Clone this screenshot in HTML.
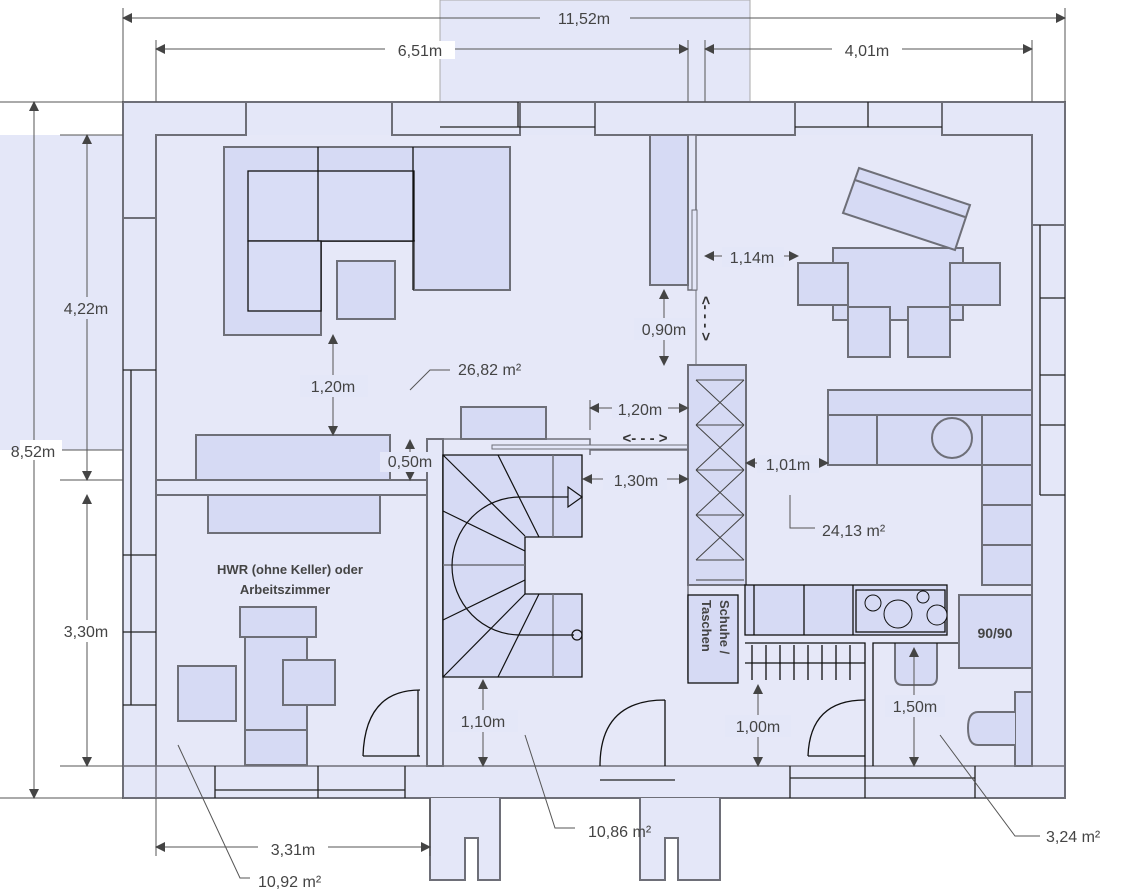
<!DOCTYPE html>
<html><head><style>
html,body{margin:0;padding:0;background:#fff}
svg{display:block}
text{font-family:"Liberation Sans",sans-serif;font-size:16px;fill:#444}
</style></head><body>
<svg width="1133" height="896" viewBox="0 0 1133 896" xmlns="http://www.w3.org/2000/svg">
<defs>
<marker id="a" markerWidth="10" markerHeight="10" refX="9" refY="5" orient="auto-start-reverse" markerUnits="userSpaceOnUse"><path d="M0,0 L10,5 L0,10 z" fill="#444"/></marker>
</defs>
<g stroke="#6e6f78" stroke-width="2" fill="#e4e7f8">
<rect x="440" y="0" width="310" height="102" stroke="#aaa" stroke-width="1"/>
<rect x="0" y="135" width="123" height="315" stroke="none"/>
<rect x="123" y="102" width="942" height="696"/>
<path d="M430 798 V880 H465 V838 H478 V880 H500 V798"/>
<path d="M640 798 V880 H665 V838 H678 V880 H720 V798"/>
</g>
<g stroke="#6e6f78" stroke-width="2" fill="#e5e7f8">
<rect x="156" y="135" width="876" height="631" stroke="none" fill="#e6e8f8"/>
<path d="M156 218 V135 H246 V102 M392 102 V135 H520 V102 M595 102 V135 H795 V102 M942 102 V135 H1032 V225 H1065 M1032 225 V766 M123 218 H156 V766" fill="none"/>
<path d="M123 766 H1065 M156 766 V798" fill="none" stroke-width="1.5"/>
<path d="M440 127 H595 M518 102 V127 M795 127 H942 M868 102 V127 M1040 225 V495 M1040 298 H1065 M1040 375 H1065 M1040 425 H1065 M1040 495 H1065 M123 370 H156 M123 555 H156 M123 632 H156 M123 705 H156 M131 370 V705" fill="none" stroke="#222" stroke-width="1.3"/>
<path d="M215 766 V798 M215 790 H405 M318 766 V798 M405 766 V798 M790 766 V798 M790 778 H975 M865 766 V798 M975 766 V798 M600 780 H675" fill="none" stroke="#222" stroke-width="1.3"/>
</g>
<g stroke="#6e6f78" stroke-width="2" fill="#e4e7f8">
<rect x="156" y="480" width="272" height="15"/>
<rect x="427" y="439" width="16" height="327"/>
<path d="M427 439 H590 V455 M590 450 H688" fill="none" stroke-width="1.5"/>
<rect x="492" y="445" width="196" height="4" stroke-width="1"/>
<rect x="688" y="135" width="8" height="155" stroke-width="1.5"/>
<rect x="692" y="210" width="5" height="80" stroke-width="1"/>
<rect x="688" y="365" width="58" height="220" fill="#d6daf4"/>
<path d="M688 365 V680" stroke-width="1.5"/>
<path d="M696 365 V290" stroke-width="1" fill="none"/>
</g>
<g stroke="#444" stroke-width="1" fill="none">
<path d="M696 380 H744 M696 425 H744 M696 470 H744 M696 515 H744 M696 560 H744 M696 580 H744"/>
<path d="M696 380 L744 425 M744 380 L696 425 M696 425 L744 470 M744 425 L696 470 M696 470 L744 515 M744 470 L696 515 M696 515 L744 560 M744 515 L696 560"/>
</g>
<g stroke="#6e6f78" stroke-width="2" fill="#d6daf4">
<path d="M224 147 H510 V290 H414 V241 H321 V335 H224 Z"/>
<rect x="248" y="171" width="166" height="70" fill="#d9ddf6" stroke="#111" stroke-width="1.3"/>
<rect x="248" y="241" width="73" height="70" fill="#d9ddf6" stroke="#111" stroke-width="1.3"/>
<path d="M318 147 V241 M413 147 V290" stroke="#111" stroke-width="1.3" fill="none"/>
<rect x="337" y="261" width="58" height="58"/>
<rect x="650" y="135" width="38" height="150"/>
<rect x="196" y="435" width="194" height="45"/>
<rect x="461" y="407" width="85" height="32"/>
<rect x="208" y="495" width="172" height="38"/>
<rect x="240" y="607" width="76" height="30"/>
<rect x="245" y="637" width="62" height="128"/>
<rect x="178" y="666" width="58" height="55"/>
<rect x="283" y="660" width="52" height="45"/>
<path d="M245 730 H307" fill="none"/>
<rect x="833" y="248" width="130" height="72"/>
<rect x="798" y="263" width="50" height="42"/>
<rect x="950" y="263" width="50" height="42"/>
<rect x="848" y="307" width="42" height="50"/>
<rect x="908" y="307" width="42" height="50"/>
<path d="M859 168 L970 205 L955 250 L843 213 Z"/>
<path d="M855 180 L965 217" fill="none"/>
<rect x="828" y="390" width="204" height="25"/>
<rect x="828" y="415" width="204" height="50"/>
<path d="M877 415 V465 M982 415 V465" fill="none"/>
<circle cx="952" cy="438" r="20"/>
<rect x="982" y="465" width="50" height="120"/>
<path d="M982 505 H1032 M982 545 H1032" fill="none"/>
<rect x="745" y="585" width="202" height="50" stroke="#111" stroke-width="1.3"/>
<path d="M754 585 V635 M804 585 V635 M853 585 V635" stroke="#111" stroke-width="1.3" fill="none"/>
<rect x="856" y="590" width="89" height="42" stroke="#111" stroke-width="1.3"/>
<circle cx="873" cy="603" r="8" stroke="#111" stroke-width="1"/>
<circle cx="898" cy="614" r="14" stroke="#111" stroke-width="1"/>
<circle cx="923" cy="597" r="6" stroke="#111" stroke-width="1"/>
<circle cx="937" cy="615" r="10" stroke="#111" stroke-width="1"/>
<rect x="959" y="595" width="73" height="73"/>
<rect x="688" y="595" width="50" height="88" stroke="#111" stroke-width="1.3"/>
<path d="M895 643 V677 Q895 685 903 685 H930 Q937 685 937 677 V643" />
<rect x="1015" y="692" width="17" height="74"/>
<path d="M1015 712 H978 Q968 712 968 728 Q968 745 978 745 H1015"/>
</g>
<g stroke="#111" stroke-width="1.3" fill="none">
<path d="M745 643 H865 V766 M873 766 V643 H958 M745 663 H865"/>
<path d="M752 645 V680 M766 645 V680 M780 645 V680 M794 645 V680 M808 645 V680 M822 645 V680 M836 645 V680 M850 645 V680"/>
<path d="M808 756 Q810 700 865 700 M808 756 H865" />
<path d="M363 756 Q365 690 420 690 M363 756 H420 M418 690 V756"/>
<path d="M600 766 Q600 700 665 700 M665 700 V766"/>
</g>
<path d="M443 455 H582 V537 H525 V594 H582 V677 H443 Z" fill="#d6daf4" stroke="#111" stroke-width="1.3"/>
<g stroke="#111" stroke-width="1.2" fill="none">
<path d="M553 455 V537 M553 594 V677 M443 565 H525" stroke="#6e6f78" stroke-width="1.5"/>
<path d="M443 455 L525 536 M498 455 L539 537 M443 511 L525 551 M443 620 L525 580 M443 677 L525 594 M498 677 L539 594"/>
<path d="M520 497 A67 68 0 0 0 520 635"/>
<path d="M520 497 H568 M520 635 H574"/>
<path d="M568 487 L582 497 L568 507 Z"/>
<circle cx="577" cy="635" r="5"/>
</g>
<g stroke="#555" stroke-width="1" fill="none">
<path d="M123 8 V102 M1065 8 V102 M156 40 V102 M688 40 V102 M705 40 V102 M1032 40 V102"/>
<path d="M123 18 H1065" marker-start="url(#a)" marker-end="url(#a)"/>
<path d="M156 49 H688" marker-start="url(#a)" marker-end="url(#a)"/>
<path d="M705 49 H1032" marker-start="url(#a)" marker-end="url(#a)"/>
<path d="M0 102 H123 M0 798 H123 M60 135 H123 M60 450 H123 M60 480 H123 M60 766 H123"/>
<path d="M34 102 V798" marker-start="url(#a)" marker-end="url(#a)"/>
<path d="M87 135 V480" marker-start="url(#a)" marker-end="url(#a)"/>
<path d="M87 495 V766" marker-start="url(#a)" marker-end="url(#a)"/>
<path d="M156 798 V856 M430 798 V856"/>
<path d="M156 847 H430" marker-start="url(#a)" marker-end="url(#a)"/>
<path d="M333 335 V435" marker-start="url(#a)" marker-end="url(#a)"/>
<path d="M410 440 V480" marker-start="url(#a)" marker-end="url(#a)"/>
<path d="M483 680 V766" marker-start="url(#a)" marker-end="url(#a)"/>
<path d="M664 290 V365" marker-start="url(#a)" marker-end="url(#a)"/>
<path d="M705 256 H798" marker-start="url(#a)" marker-end="url(#a)"/>
<path d="M590 400 V430 M590 408 H688" marker-end="url(#a)"/>
<path d="M590 408 H688" marker-start="url(#a)"/>
<path d="M583 479 H688" marker-start="url(#a)" marker-end="url(#a)"/>
<path d="M746 463 H828" marker-start="url(#a)" marker-end="url(#a)"/>
<path d="M758 685 V766" marker-start="url(#a)" marker-end="url(#a)"/>
<path d="M914 648 V766" marker-start="url(#a)" marker-end="url(#a)"/>
<path d="M178 745 L240 878 H250 M525 735 L555 828 H575 M940 735 L1015 836 H1040 M790 495 V528 H815 M410 390 L430 370 H450"/>
</g>
<g fill="#444" stroke="none">
<text x="645" y="443" text-anchor="middle" style="font-size:15px;font-weight:bold;fill:#333">&lt;- - - &gt;</text>
<text transform="translate(701,296) rotate(90)" style="font-size:15px;font-weight:bold;fill:#333">&lt;- - - &gt;</text>
</g>
<g fill="#e4e7f8">
<rect x="540" y="10" width="90" height="18"/><rect x="385" y="41" width="70" height="18" fill="#fff"/><rect x="832" y="41" width="70" height="18" fill="#fff"/>
<rect x="20" y="440" width="42" height="20" fill="#fff"/><rect x="55" y="297" width="62" height="22"/><rect x="52" y="620" width="65" height="22" fill="#fff"/>
<rect x="300" y="375" width="68" height="22"/><rect x="380" y="452" width="60" height="20"/><rect x="448" y="710" width="70" height="22"/>
<rect x="634" y="318" width="60" height="22"/><rect x="722" y="247" width="62" height="20"/><rect x="612" y="400" width="56" height="18"/>
<rect x="603" y="470" width="64" height="20"/><rect x="757" y="455" width="62" height="18"/><rect x="725" y="715" width="66" height="22"/>
<rect x="885" y="695" width="60" height="22"/><rect x="258" y="838" width="70" height="20" fill="#fff"/>
</g>
<g>
<text x="584" y="24" text-anchor="middle">11,52m</text>
<text x="420" y="56" text-anchor="middle">6,51m</text>
<text x="867" y="56" text-anchor="middle">4,01m</text>
<text x="33" y="457" text-anchor="middle">8,52m</text>
<text x="86" y="314" text-anchor="middle">4,22m</text>
<text x="86" y="637" text-anchor="middle">3,30m</text>
<text x="333" y="392" text-anchor="middle">1,20m</text>
<text x="410" y="467" text-anchor="middle">0,50m</text>
<text x="483" y="727" text-anchor="middle">1,10m</text>
<text x="664" y="335" text-anchor="middle">0,90m</text>
<text x="752" y="263" text-anchor="middle">1,14m</text>
<text x="640" y="415" text-anchor="middle">1,20m</text>
<text x="636" y="486" text-anchor="middle">1,30m</text>
<text x="788" y="470" text-anchor="middle">1,01m</text>
<text x="758" y="732" text-anchor="middle">1,00m</text>
<text x="915" y="712" text-anchor="middle">1,50m</text>
<text x="293" y="855" text-anchor="middle">3,31m</text>
<text x="458" y="375">26,82 m²</text>
<text x="822" y="536">24,13 m²</text>
<text x="588" y="837">10,86 m²</text>
<text x="1046" y="842">3,24 m²</text>
<text x="258" y="887">10,92 m²</text>
<text x="290" y="574" text-anchor="middle" style="font-size:13px;font-weight:bold">HWR (ohne Keller) oder</text>
<text x="285" y="594" text-anchor="middle" style="font-size:13px;font-weight:bold">Arbeitszimmer</text>
<text x="995" y="638" text-anchor="middle" style="font-size:14px;font-weight:bold">90/90</text>
<text transform="translate(720,600) rotate(90)" style="font-size:13px;font-weight:bold">Schuhe /</text>
<text transform="translate(702,600) rotate(90)" style="font-size:13px;font-weight:bold">Taschen</text>
</g>
</svg>
</body></html>
